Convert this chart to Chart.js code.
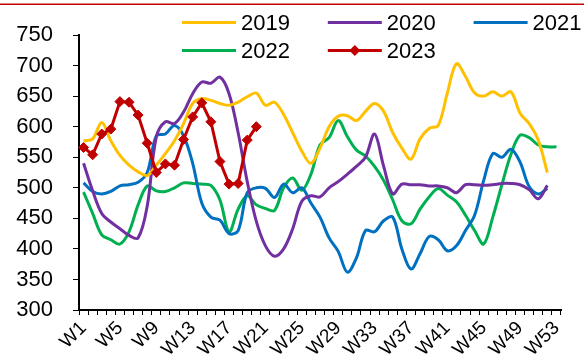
<!DOCTYPE html>
<html>
<head>
<meta charset="utf-8">
<script src="https://cdn.jsdelivr.net/npm/chart.js@4/dist/chart.umd.min.js"></script>
<style>
  html, body { margin: 0; padding: 0; background: #fff; }
  #wrap { width: 584px; height: 363px; position: relative; }
</style>
</head>
<body>
<div id="wrap"><canvas id="c"></canvas></div>
<script>
// Weekly categories
const weeks = ['W1','W2','W3','W4','W5','W6','W7','W8','W9','W10','W11','W12','W13','W14','W15','W16','W17','W18','W19','W20',
  'W21','W22','W23','W24','W25','W26','W27','W28','W29','W30','W31','W32','W33','W34','W35','W36','W37','W38','W39','W40',
  'W41','W42','W43','W44','W45','W46','W47','W48','W49','W50','W51','W52','W53'];

// Series values per year
const y2019 = [577,580,607,577,553,537,526,520,537,556,577,605,638,646,643,638,635,640,649,655,
  635,640,620,590,560,540,565,600,617,618,610,625,638,625,590,565,547,580,597,602,
  655,703,682,655,650,657,650,657,622,605,578,525];
const y2020 = [540,495,458,444,433,422,418,470,583,608,605,624,654,673,671,681,654,590,510,445,
  405,388,400,433,478,487,485,500,510,522,535,550,588,535,490,506,505,505,503,503,
  500,492,505,505,504,505,507,507,505,497,482,504];
const y2021 = [508,494,490,494,503,505,509,525,585,588,602,585,540,475,452,447,425,430,492,500,
  499,484,506,492,500,475,452,418,396,362,385,430,428,446,452,400,367,392,420,415,
  397,405,430,455,512,556,550,563,542,502,490,499];
const y2022 = [493,458,423,415,408,428,472,503,495,494,500,508,507,506,504,480,428,465,487,472,
  466,463,500,516,496,522,570,582,610,584,562,552,535,512,480,446,441,465,485,499,
  488,477,455,430,408,452,505,555,586,582,570,567,567];
const y2023 = [566,554,588,596,641,640,619,573,525,539,537,579,616,639,608,543,506,507,578,600];

// Y axis range and tick step
const yMin = 300, yMax = 750, yStep = 50;

const FONT = '"Liberation Sans", Arial, sans-serif';

// Thin dark-red rule along the top edge
const topRule = {
  id: 'topRule',
  beforeDraw(chart) {
    const ctx = chart.ctx;
    ctx.save();
    ctx.fillStyle = '#C00000';
    ctx.fillRect(0, 3.5, chart.width, 1.5);
    ctx.restore();
  }
};

// Legend laid out in three columns over the top of the plot
const gridLegend = {
  id: 'gridLegend',
  afterDraw(chart) {
    const ctx = chart.ctx;
    const left = 182, colPitch = 145.8, rowTop = 22.5, rowPitch = 28, lineLen = 54, gap = 5;
    ctx.save();
    ctx.font = '22px ' + FONT;
    ctx.textBaseline = 'middle';
    ctx.textAlign = 'left';
    chart.data.datasets.forEach((ds, i) => {
      const col = i % 3, row = Math.floor(i / 3);
      const x = left + col * colPitch;
      const y = rowTop + row * rowPitch;
      ctx.strokeStyle = ds.borderColor;
      ctx.lineWidth = 3;
      ctx.beginPath();
      ctx.moveTo(x, y);
      ctx.lineTo(x + lineLen, y);
      ctx.stroke();
      if (ds.pointRadius > 0) {
        const r = ds.pointRadius + 0.5, cx = x + lineLen / 2;
        ctx.fillStyle = ds.pointBackgroundColor;
        ctx.beginPath();
        ctx.moveTo(cx, y - r);
        ctx.lineTo(cx + r, y);
        ctx.lineTo(cx, y + r);
        ctx.lineTo(cx - r, y);
        ctx.closePath();
        ctx.fill();
      }
      ctx.fillStyle = '#000';
      ctx.fillText(ds.label, x + lineLen + gap, y + 1);
    });
    ctx.restore();
  }
};

function smoothLine(label, data, color) {
  return {
    label, data,
    borderColor: color,
    backgroundColor: color,
    borderWidth: 3,
    pointRadius: 0,
    tension: 0.35,
    fill: false,
    order: 1
  };
}

new Chart(document.getElementById('c'), {
  type: 'line',
  data: {
    labels: weeks,
    datasets: [
      smoothLine('2019', y2019, '#FFC000'),
      smoothLine('2020', y2020, '#7030A0'),
      smoothLine('2021', y2021, '#0070C0'),
      smoothLine('2022', y2022, '#00B050'),
      {
        label: '2023', data: y2023,
        borderColor: '#C00000', backgroundColor: '#C00000',
        pointBackgroundColor: '#C00000', pointBorderColor: '#C00000',
        borderWidth: 3, pointStyle: 'rectRot', pointRadius: 5, pointBorderWidth: 1,
        tension: 0, fill: false, order: 0
      }
    ]
  },
  options: {
    responsive: true,
    maintainAspectRatio: false,
    animation: false,
    devicePixelRatio: 1,
    layout: { padding: { top: 35, right: 23, bottom: 0, left: 0 } },
    plugins: { legend: { display: false }, tooltip: { enabled: false } },
    scales: {
      x: {
        type: 'category',
        offset: true,
        border: { display: true, color: '#000', width: 2 },
        grid: { display: true, drawOnChartArea: false, drawTicks: true, tickLength: 5, tickColor: '#000', tickWidth: 1, offset: true },
        ticks: {
          autoSkip: false, minRotation: 45, maxRotation: 45, padding: 2,
          color: '#000', font: { family: FONT, size: 19 },
          callback: (v, i) => (i % 4 === 0 ? weeks[i] : '')
        },
        afterFit: (s) => { s.height = 53; }
      },
      y: {
        min: yMin, max: yMax,
        border: { display: true, color: '#000', width: 2 },
        grid: { display: true, drawOnChartArea: false, drawTicks: true, tickLength: 6, tickColor: '#000', tickWidth: 1 },
        ticks: { stepSize: yStep, padding: 20, color: '#000', font: { family: FONT, size: 22 } },
        afterFit: (s) => { s.width = 79; }
      }
    }
  },
  plugins: [topRule, gridLegend]
});
</script>
</body>
</html>
